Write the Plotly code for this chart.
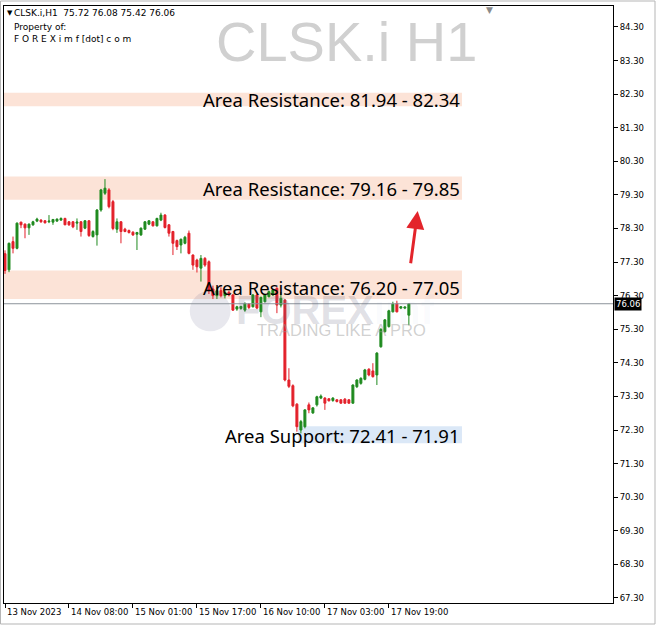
import plotly.graph_objects as go

# ---------------- data ----------------
bar_index = list(range(102))
opens = [77.55, 77.07, 77.91, 77.71, 78.49, 78.43, 78.32, 78.41, 78.52, 78.55,
         78.53, 78.50, 78.49, 78.52, 78.55, 78.60, 78.50, 78.50, 78.46, 78.50,
         78.31, 78.53, 78.06, 78.11, 78.85, 79.35, 79.45, 79.10, 78.28, 78.50,
         78.28, 78.24, 78.19, 78.13, 78.11, 78.28, 78.43, 78.50, 78.38, 78.55,
         78.70, 78.41, 78.21, 77.94, 77.81, 77.86, 78.16, 77.51, 77.36, 77.12,
         77.41, 77.31, 76.50, 76.30, 76.45, 76.30, 76.40, 76.32, 75.90, 75.92,
         75.87, 76.05, 75.97, 76.32, 75.82, 76.12, 76.27, 76.32, 76.52, 76.02,
         76.17, 73.79, 73.62, 73.07, 72.30, 72.40, 73.05, 72.81, 73.05, 73.25,
         73.25, 73.23, 73.18, 73.20, 73.20, 73.22, 73.20, 73.10, 73.59, 73.69,
         73.81, 74.11, 74.06, 73.94, 74.78, 75.23, 75.38, 75.82, 76.07, 75.93,
         75.93, 75.72]
highs = [77.65, 77.88, 78.06, 78.48, 78.50, 78.45, 78.45, 78.53, 78.62, 78.58,
         78.55, 78.70, 78.58, 78.60, 78.63, 78.62, 78.52, 78.52, 78.60, 78.52,
         78.55, 78.55, 78.25, 78.88, 79.48, 79.77, 79.50, 79.15, 78.60, 78.52,
         78.32, 78.27, 78.22, 78.20, 78.33, 78.52, 78.55, 78.52, 78.62, 78.77,
         78.73, 78.43, 78.23, 77.97, 78.00, 78.08, 78.24, 77.53, 77.40, 77.51,
         77.45, 77.35, 76.60, 76.55, 76.55, 76.50, 76.45, 76.35, 76.00, 76.00,
         76.10, 76.08, 76.35, 76.35, 76.27, 76.35, 76.45, 76.50, 76.55, 76.41,
         76.20, 74.14, 73.66, 73.10, 72.60, 72.92, 73.12, 72.98, 73.32, 73.36,
         73.28, 73.25, 73.28, 73.22, 73.22, 73.25, 73.22, 73.66, 73.81, 73.87,
         74.12, 74.14, 74.29, 74.62, 75.33, 75.60, 75.88, 76.12, 76.15, 75.99,
         75.98, 76.08]
lows = [76.95, 77.00, 77.56, 77.68, 78.31, 78.01, 78.11, 78.38, 78.49, 78.47,
        78.45, 78.46, 78.41, 78.50, 78.53, 78.40, 78.38, 78.31, 78.26, 78.06,
        78.28, 78.05, 78.03, 77.79, 78.80, 79.30, 78.90, 78.25, 78.17, 77.86,
        78.19, 78.15, 78.08, 77.66, 78.08, 78.26, 78.40, 78.36, 78.36, 78.52,
        78.30, 78.06, 77.51, 77.66, 77.56, 77.83, 77.53, 77.07, 76.99, 76.72,
        77.16, 76.35, 76.20, 76.20, 76.25, 76.22, 76.28, 75.85, 75.85, 75.88,
        75.82, 75.90, 75.95, 75.90, 75.66, 76.10, 76.25, 76.30, 75.78, 75.95,
        73.75, 73.55, 72.98, 72.25, 72.20, 72.35, 72.80, 72.78, 73.00, 73.22,
        72.90, 73.15, 73.14, 73.12, 73.08, 73.08, 73.08, 73.08, 73.55, 73.65,
        73.78, 73.90, 73.86, 73.64, 74.75, 75.20, 75.35, 75.80, 75.80, 75.90,
        75.90, 75.42]
closes = [77.05, 77.86, 77.71, 78.46, 78.41, 78.32, 78.43, 78.50, 78.58, 78.50,
          78.47, 78.52, 78.57, 78.58, 78.60, 78.41, 78.41, 78.35, 78.49, 78.21,
          78.53, 78.09, 78.21, 78.85, 79.45, 79.50, 78.95, 78.30, 78.50, 78.21,
          78.21, 78.18, 78.11, 78.18, 78.31, 78.50, 78.53, 78.38, 78.60, 78.70,
          78.33, 78.16, 77.86, 77.76, 77.98, 78.04, 77.56, 77.21, 77.16, 77.41,
          77.21, 76.45, 76.30, 76.45, 76.30, 76.40, 76.32, 75.87, 75.97, 75.98,
          76.07, 75.95, 76.32, 75.93, 76.25, 76.32, 76.42, 76.47, 76.02, 76.22,
          73.79, 73.60, 73.02, 72.40, 72.55, 72.90, 72.90, 72.96, 73.29, 73.31,
          73.10, 73.17, 73.25, 73.15, 73.10, 73.10, 73.10, 73.64, 73.79, 73.84,
          74.09, 73.94, 73.89, 74.59, 75.30, 75.58, 75.85, 76.05, 75.82, 75.97,
          75.96, 76.06]

x_tick_bars = [0, 16, 32, 48, 64, 80, 96]
x_tick_labels = ["13 Nov 2023", "14 Nov 08:00", "15 Nov 01:00", "15 Nov 17:00",
                 "16 Nov 10:00", "17 Nov 03:00", "17 Nov 19:00"]
y_tick_vals = [67.30, 68.30, 69.30, 70.30, 71.30, 72.30, 73.30, 74.30, 75.30,
               76.30, 77.30, 78.30, 79.30, 80.30, 81.30, 82.30, 83.30, 84.30]

symbol = "CLSK.i"
timeframe = "H1"
last_ohlc = [75.72, 76.08, 75.42, 76.06]
current_price = 76.06

resistance_zones = [(81.94, 82.34), (79.16, 79.85), (76.20, 77.05)]
support_zones = [(72.41, 71.91)]

# ---------------- figure ----------------
RED = "#e3202a"
GREEN = "#1f8a1f"

fig = go.Figure()
fig.add_trace(go.Candlestick(
    x=bar_index, open=opens, high=highs, low=lows, close=closes,
    increasing=dict(line=dict(color=GREEN, width=1), fillcolor=GREEN),
    decreasing=dict(line=dict(color=RED, width=1), fillcolor=RED),
    whiskerwidth=0, hoverinfo="skip", showlegend=False,
))

shapes = []
annotations = []

zone_right = 0.752
for lo, hi in resistance_zones:
    shapes.append(dict(type="rect", xref="paper", yref="y", x0=0, x1=zone_right,
                       y0=lo, y1=hi, fillcolor="#fce3d7", line=dict(width=0),
                       layer="below"))
for hi, lo in support_zones:
    shapes.append(dict(type="rect", xref="paper", yref="y", x0=0.483, x1=zone_right,
                       y0=lo, y1=hi, fillcolor="#dbe8f7", line=dict(width=0),
                       layer="below"))

# watermark logo circle
shapes.append(dict(type="circle", xref="paper", yref="paper",
                   x0=0.305, x1=0.372, y0=0.455, y1=0.523,
                   fillcolor="rgba(110,115,150,0.16)", line=dict(width=0),
                   layer="below"))

# current price line
shapes.append(dict(type="line", xref="paper", yref="y", x0=0, x1=1,
                   y0=current_price, y1=current_price,
                   line=dict(color="#8d939b", width=1)))

# outer frame
shapes.append(dict(type="rect", xref="paper", yref="paper",
                   x0=-3.5 / 609, x1=651 / 609, y0=-21 / 597, y1=602 / 597,
                   line=dict(color="#b5b5b5", width=1), fillcolor="rgba(0,0,0,0)"))

BIG = "Noto Sans"
SMALL = "DejaVu Sans"

# title watermark
annotations.append(dict(text=f"{symbol} {timeframe}", xref="paper", yref="paper",
                        x=0.563, y=0.94, xanchor="center", yanchor="middle",
                        showarrow=False,
                        font=dict(family="Liberation Sans", size=56, color="#d0d0d0")))

# FOREXimf watermark
annotations.append(dict(text="<b>FOREX</b><span style='color:rgba(120,140,200,0.25)'><b>imf</b></span>",
                        xref="paper", yref="paper", x=0.378, y=0.49,
                        xanchor="left", yanchor="middle", showarrow=False,
                        font=dict(family="Liberation Sans", size=40,
                                  color="rgba(95,100,125,0.20)")))
annotations.append(dict(text="TRADING LIKE A PRO", xref="paper", yref="paper",
                        x=0.412, y=0.458, xanchor="left", yanchor="middle",
                        showarrow=False,
                        font=dict(family="Liberation Sans", size=16.5,
                                  color="rgba(150,150,150,0.45)")))

# zone labels
zone_shift = [0, 0, -3]
for (lo, hi), ys in zip(resistance_zones, zone_shift):
    annotations.append(dict(text=f"Area Resistance: {lo:.2f} - {hi:.2f}",
                            xref="paper", yref="y", x=zone_right, y=(lo + hi) / 2,
                            xanchor="right", yanchor="middle", yshift=ys,
                            showarrow=False,
                            font=dict(family=BIG, size=18.5, color="black")))
for hi, lo in support_zones:
    annotations.append(dict(text=f"Area Support: {hi:.2f} - {lo:.2f}",
                            xref="paper", yref="y", x=zone_right, y=(lo + hi) / 2,
                            xanchor="right", yanchor="middle", yshift=-1,
                            showarrow=False,
                            font=dict(family=BIG, size=18.5, color="black")))

# red arrow
annotations.append(dict(text="", x=bar_index[-1] + 2.2, y=78.82, xref="x", yref="y",
                        ax=bar_index[-1] + 0.4, ay=77.22, axref="x", ayref="y",
                        showarrow=True, arrowhead=2, arrowsize=1.2, arrowwidth=3,
                        arrowcolor="#e3242b"))

# header text
hdr = f"{symbol},{timeframe}  " + " ".join(f"{v:.2f}" for v in last_ohlc)
annotations.append(dict(text="▼", xref="paper", yref="paper", x=0.0, y=1.0,
                        xanchor="left", yanchor="top", xshift=1, yshift=-1,
                        showarrow=False, font=dict(family=SMALL, size=7, color="black")))
annotations.append(dict(text=hdr, xref="paper", yref="paper", x=0.0, y=1.0,
                        xanchor="left", yanchor="top", xshift=8, yshift=0,
                        showarrow=False, font=dict(family=SMALL, size=9, color="black")))
annotations.append(dict(text="Property of:", xref="paper", yref="paper", x=0.0, y=1.0,
                        xanchor="left", yanchor="top", xshift=8, yshift=-14,
                        showarrow=False, font=dict(family=SMALL, size=9, color="black")))
annotations.append(dict(text="F O R E X i m f [dot] c o m", xref="paper", yref="paper",
                        x=0.0, y=1.0, xanchor="left", yanchor="top", xshift=8, yshift=-26,
                        showarrow=False, font=dict(family=SMALL, size=9, color="black")))

# chart-shift marker at the top edge
annotations.append(dict(text="▼", xref="paper", yref="paper", x=0.798, y=1.0,
                        xanchor="center", yanchor="top", yshift=3,
                        showarrow=False, font=dict(family=SMALL, size=9, color="#8a8a8a")))

# current price tag
annotations.append(dict(text=f"{current_price:.2f}", xref="paper", yref="y", x=1.0,
                        y=current_price, xanchor="left", yanchor="middle", xshift=1,
                        showarrow=False, bgcolor="black", borderpad=1,
                        font=dict(family=SMALL, size=8.5, color="white")))

# x tick labels, left aligned at their ticks (MT4 style)
for b, lab in zip(x_tick_bars, x_tick_labels):
    annotations.append(dict(text=lab, xref="x", yref="paper", x=b, y=0,
                            xanchor="left", yanchor="top", xshift=0, yshift=-2,
                            showarrow=False,
                            font=dict(family=SMALL, size=8.5, color="black")))

fig.update_layout(
    width=656, height=625,
    margin=dict(l=4, r=43, t=6, b=22),
    paper_bgcolor="white", plot_bgcolor="white",
    showlegend=False,
    shapes=shapes, annotations=annotations,
    xaxis=dict(range=[-0.25, 152.05], showgrid=False, zeroline=False,
               tickvals=x_tick_bars, ticktext=[""] * len(x_tick_bars),
               ticks="outside", ticklen=4, tickcolor="black",
               showline=True, linecolor="black", linewidth=1, mirror=True,
               rangeslider=dict(visible=False), fixedrange=True),
    yaxis=dict(side="right", range=[67.15, 84.925], showgrid=False, zeroline=False,
               tickvals=y_tick_vals, ticktext=[f"{v:.2f}" for v in y_tick_vals],
               ticks="outside", ticklen=4, tickcolor="black",
               tickfont=dict(family=SMALL, size=8.5, color="black"),
               showline=True, linecolor="black", linewidth=1, mirror=True,
               fixedrange=True),
)

fig.write_html("out.html", config=dict(displayModeBar=False),
               post_script="document.body.style.margin='0px';document.body.style.overflow='hidden';")
